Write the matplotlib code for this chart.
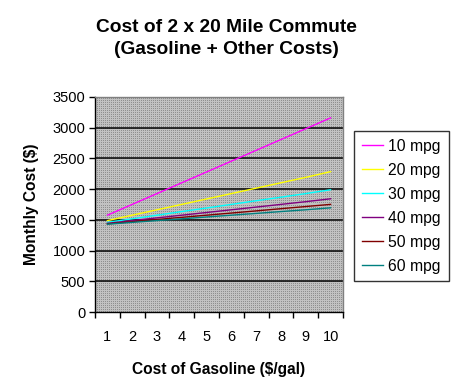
import matplotlib
matplotlib.use("Agg")
import numpy as np
import matplotlib.pyplot as plt

plt.rcParams["font.family"] = ["Liberation Sans", "DejaVu Sans"]

gas_price = [1, 2, 3, 4, 5, 6, 7, 8, 9, 10]
series_names = ["10 mpg", "20 mpg", "30 mpg", "40 mpg", "50 mpg", "60 mpg"]
cost_10 = [1576, 1752, 1928, 2104, 2280, 2456, 2632, 2808, 2984, 3160]
cost_20 = [1488, 1576, 1664, 1752, 1840, 1928, 2016, 2104, 2192, 2285]
cost_30 = [1459, 1517, 1576, 1635, 1693, 1752, 1811, 1869, 1928, 1990]
cost_40 = [1444, 1488, 1532, 1576, 1620, 1664, 1708, 1752, 1796, 1843]
cost_50 = [1435, 1470, 1506, 1541, 1576, 1611, 1646, 1682, 1717, 1752]
cost_60 = [1429, 1459, 1488, 1517, 1547, 1576, 1605, 1635, 1664, 1696]
all_costs = [cost_10, cost_20, cost_30, cost_40, cost_50, cost_60]
line_colors = ["#ff00ff", "#ffff00", "#00ffff", "#800080", "#800000", "#008080"]
y_ticks = [0, 500, 1000, 1500, 2000, 2500, 3000, 3500]

W, H = 451, 378
fig = plt.figure(figsize=(W / 100, H / 100), dpi=100)
fig.patch.set_facecolor("white")

# plot area in pixels
left, right, top, bottom = 95, 343, 97, 312
ax = fig.add_axes([left / W, 1 - bottom / H, (right - left) / W, (bottom - top) / H])

# dotted gray background like the Excel fill pattern
pw, ph = right - left, bottom - top
pattern = np.full((ph, pw, 3), 0.76)
pattern[::2, ::2] = 0.56
ax.imshow(pattern, extent=(0, 1, 0, 1), transform=ax.transAxes,
          interpolation="nearest", aspect="auto", zorder=0)

for yv in y_ticks[1:-1]:
    ax.axhline(yv, color="black", linewidth=1.1, zorder=1)

for costs, name, col in zip(all_costs, series_names, line_colors):
    ax.plot(gas_price, costs, color=col, linewidth=1.0, label=name, zorder=2)

ax.set_xlim(0.5, 10.5)
ax.set_ylim(0, 3500)
ax.set_yticks(y_ticks)
ax.set_xticks(gas_price)
ax.set_xticks([x + 0.5 for x in [0] + gas_price], minor=True)
ax.tick_params(axis="x", which="major", length=0, pad=13, labelsize=10.5)
ax.tick_params(axis="x", which="minor", length=4, direction="out", width=1)
ax.tick_params(axis="y", length=4, direction="out", width=1, pad=3, labelsize=10.5)

for side in ["left", "bottom"]:
    ax.spines[side].set_color("black")
    ax.spines[side].set_linewidth(1)
for side in ["top", "right"]:
    ax.spines[side].set_color("#808080")
    ax.spines[side].set_linewidth(1)

ax.set_xlabel("Cost of Gasoline ($/gal)", fontsize=11.2, fontweight="bold", labelpad=13)
ax.set_ylabel("Monthly Cost ($)", fontsize=11.2, fontweight="bold", labelpad=10)

fig.text(226 / W, 1 - 38.5 / H,
         "Cost of 2 x 20 Mile Commute\n(Gasoline + Other Costs)",
         ha="center", va="center", fontsize=13.8, fontweight="bold", linespacing=1.35)

leg = fig.legend(loc="upper left", bbox_to_anchor=(354 / W, 1 - 131 / H),
                 fontsize=11.3, frameon=True, fancybox=False, shadow=False,
                 handlelength=1.35, handletextpad=0.33, labelspacing=0.57,
                 borderpad=0.5, borderaxespad=0)
leg.get_frame().set_edgecolor("black")
leg.get_frame().set_linewidth(1)

fig.savefig("out.png", dpi=100)
